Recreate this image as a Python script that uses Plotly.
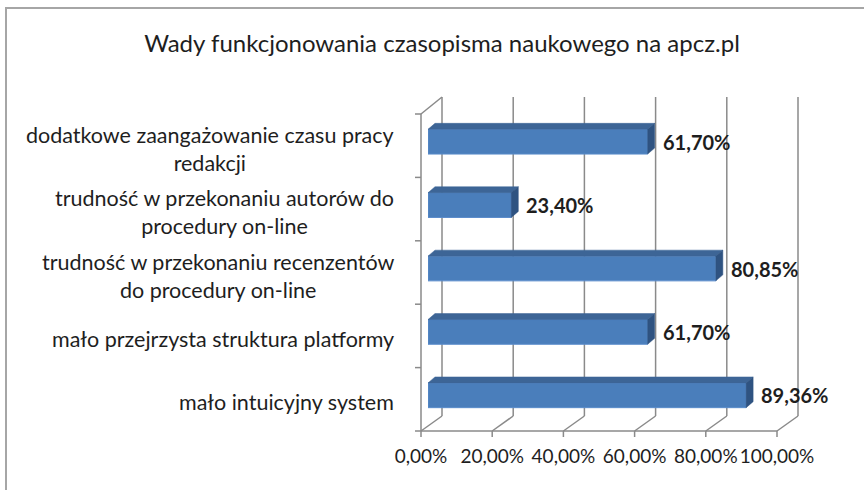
import plotly.graph_objects as go

# ---- data ----
categories = [
    "dodatkowe zaangażowanie czasu pracy<br>redakcji",
    "trudność w przekonaniu autorów do<br>procedury on-line",
    "trudność w przekonaniu recenzentów<br>do procedury on-line",
    "mało przejrzysta struktura platformy",
    "mało intuicyjny system",
]
values = [61.70, 23.40, 80.85, 61.70, 89.36]  # percent
xticks = [0, 0.2, 0.4, 0.6, 0.8, 1.0]
title = "Wady funkcjonowania czasopisma naukowego na apcz.pl"

# ---- layout geometry (pixels) ----
W, H = 864, 490
L, R, T, B = 428, 784, 110, 427          # plot area
FONT = "Lato, Carlito, Calibri, sans-serif"
TXT = "#1e1e1e"
GRID = "#8a8a8a"

def xp(px):
    return (px - L) / (R - L)

def yp(py):
    return (B - py) / (B - T)

fr = [v / 100 for v in values]
idx = list(range(len(categories)))
bw = 0.39                      # bar thickness (category units)
ddx = 7 / (R - L)              # 3D depth in data units
ddy = 6 / ((B - T) / 5)

fig = go.Figure()

# front faces
fig.add_trace(go.Bar(
    x=fr, y=idx, orientation="h", width=bw,
    marker=dict(color="#4a7ebb", line=dict(color="#5a8ccb", width=1)),
    hoverinfo="skip", showlegend=False,
))

# top faces
tx, ty = [], []
for v, i in zip(fr, idx):
    y0 = i - bw / 2
    tx += [0, v, v + ddx, ddx, 0, None]
    ty += [y0, y0, y0 - ddy, y0 - ddy, y0, None]
fig.add_trace(go.Scatter(x=tx, y=ty, mode="lines", fill="toself",
                         fillcolor="#3d6596", line=dict(color="#3d6596", width=0.5),
                         hoverinfo="skip", showlegend=False))
# side faces
sx, sy = [], []
for v, i in zip(fr, idx):
    y0, y1 = i - bw / 2, i + bw / 2
    sx += [v, v, v + ddx, v + ddx, v, None]
    sy += [y0, y1, y1 - ddy, y0 - ddy, y0, None]
fig.add_trace(go.Scatter(x=sx, y=sy, mode="lines", fill="toself",
                         fillcolor="#2f5381", line=dict(color="#2f5381", width=0.5),
                         hoverinfo="skip", showlegend=False))

shapes = []
# back wall gridlines + floor diagonals
for v in xticks:
    shapes.append(dict(type="line", xref="paper", yref="paper", xsizemode="pixel", xanchor=v,
                       x0=14, x1=14, y0=yp(416), y1=yp(97),
                       line=dict(color=GRID, width=1.5), layer="below"))
    shapes.append(dict(type="line", xref="paper", yref="paper", xsizemode="pixel", xanchor=v,
                       x0=14, x1=-7, y0=yp(416), y1=yp(431),
                       line=dict(color=GRID, width=1.5), layer="below"))
    # tick marks on front floor edge
    shapes.append(dict(type="line", xref="paper", yref="paper", xsizemode="pixel", xanchor=v,
                       x0=-7, x1=-7, y0=yp(431), y1=yp(437),
                       line=dict(color=GRID, width=1.5), layer="below"))
# front floor edge
shapes.append(dict(type="line", xref="paper", yref="paper", x0=xp(421), x1=xp(777),
                   y0=yp(431), y1=yp(431), line=dict(color=GRID, width=1.5), layer="below"))
# left side wall edges
shapes.append(dict(type="line", xref="paper", yref="paper", x0=xp(421), x1=xp(421),
                   y0=yp(114), y1=yp(431), line=dict(color=GRID, width=1.5), layer="below"))
shapes.append(dict(type="line", xref="paper", yref="paper", x0=xp(421), x1=xp(442),
                   y0=yp(114), y1=yp(97), line=dict(color=GRID, width=1.5), layer="below"))
# left tick marks at category boundaries
for k in range(len(categories) + 1):
    py = 114 + k * (431 - 114) / len(categories)
    shapes.append(dict(type="line", xref="paper", yref="paper", x0=xp(415), x1=xp(421),
                       y0=yp(py), y1=yp(py), line=dict(color=GRID, width=1.5), layer="below"))
# chart border (left and top visible)
shapes.append(dict(type="line", xref="paper", yref="paper", x0=xp(6), x1=xp(6),
                   y0=yp(7), y1=yp(495), line=dict(color="#a6a6a6", width=2)))
shapes.append(dict(type="line", xref="paper", yref="paper", x0=xp(5), x1=xp(870),
                   y0=yp(8), y1=yp(8), line=dict(color="#a6a6a6", width=2)))

annotations = []
# category labels
for c, i in zip(categories, idx):
    annotations.append(dict(text=c, xref="paper", yref="y", x=xp(396), y=i, yshift=-7,
                            xanchor="right", yanchor="middle", align="center", showarrow=False,
                            font=dict(family=FONT, size=21.5, color=TXT)))
# data labels
for v, f, i in zip(values, fr, idx):
    annotations.append(dict(text=f"<b>{v:.2f}%</b>".replace(".", ","), xref="x", yref="y",
                            x=f, y=i, xshift=13, xanchor="left", yanchor="middle",
                            showarrow=False, font=dict(family=FONT, size=20, color=TXT)))

fig.update_layout(
    width=W, height=H,
    margin=dict(l=L, r=W - R, t=T, b=H - B, pad=0, autoexpand=False),
    paper_bgcolor="white", plot_bgcolor="rgba(0,0,0,0)",
    separators=", ",
    title=dict(text=title, xref="container", x=442 / W, xanchor="center",
               yref="container", y=(H - 44) / H, yanchor="middle",
               font=dict(family=FONT, size=24, color=TXT)),
    xaxis=dict(range=[0, 1], tickvals=xticks, tickformat=".2%", showgrid=False,
               zeroline=False, showline=False, ticks="", ticklabelshift=-7,
               tickangle=0, automargin=False,
               ticklabelstandoff=16, tickfont=dict(family=FONT, size=19, color=TXT)),
    yaxis=dict(range=[4.5, -0.5], showticklabels=False, showgrid=False, zeroline=False,
               showline=False, ticks="", automargin=False),
    shapes=shapes, annotations=annotations,
    showlegend=False,
)

fig.write_html("out.html", config={"displayModeBar": False},
               post_script="document.body.style.margin='0';document.body.style.overflow='hidden';")
